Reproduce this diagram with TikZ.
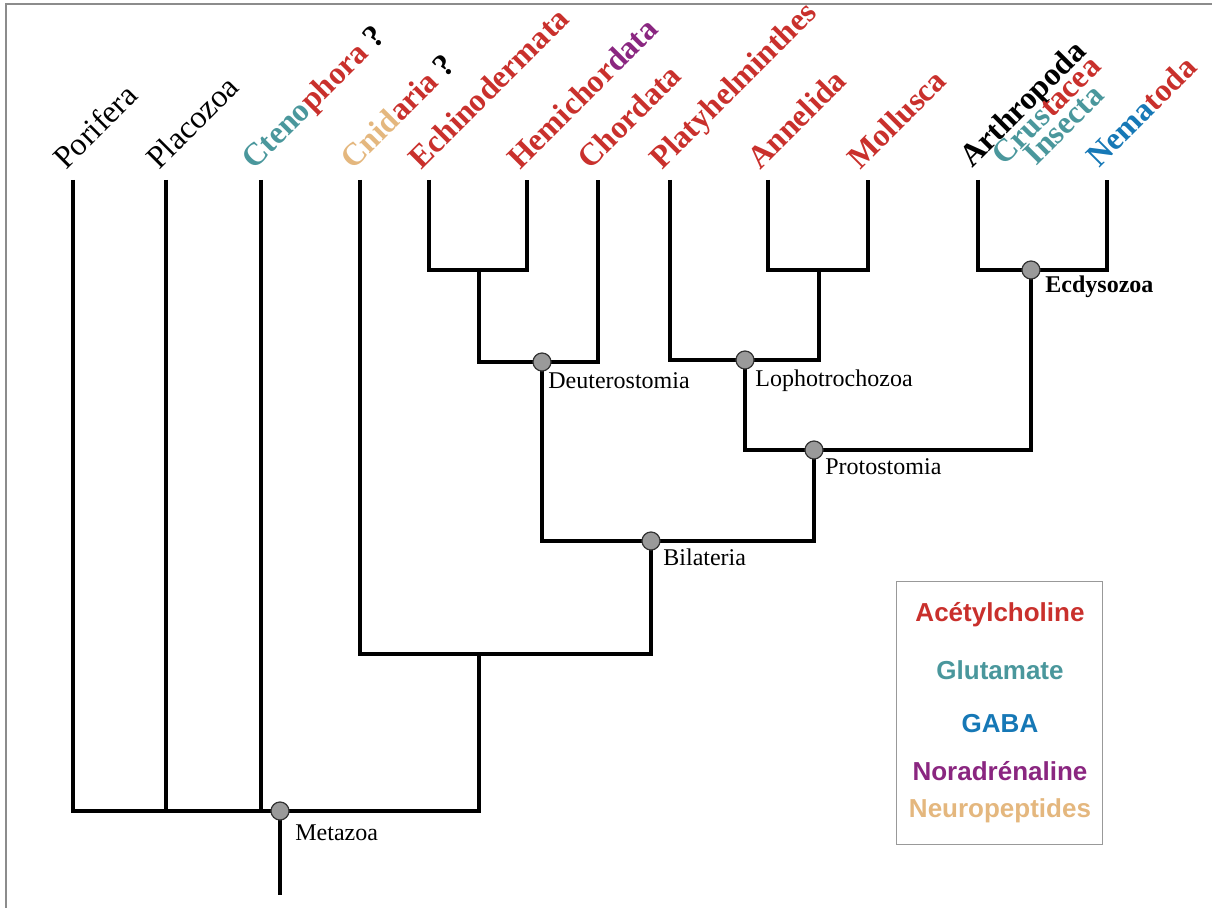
\documentclass[tikz,border=0pt]{standalone}
\usepackage{fontspec}
\setmainfont{Liberation Serif}
\newfontfamily\legendfont{Liberation Sans}
\usepackage{tikz}
\usetikzlibrary{calc}
\definecolor{acetyl}{HTML}{C9302C}
\definecolor{gluta}{HTML}{4A979C}
\definecolor{gaba}{HTML}{1678B6}
\definecolor{noradr}{HTML}{8A2680}
\definecolor{neuro}{HTML}{E4B77E}
\definecolor{dotgray}{HTML}{9A9A9A}

\tikzset{
	branch/.style={line width=2.2pt},
	taxon/.style={rotate=45, anchor=base west, inner sep=0pt, font=\fontsize{16}{18}\selectfont},
	taxonbf/.style={taxon, font=\fontsize{16}{18}\selectfont\bfseries},
	clade/.style={circle, fill=dotgray, draw=black!80, line width=0.6pt, minimum size=9pt, inner sep=0pt},
	cladelab/.style={anchor=base west, inner sep=0pt, font=\fontsize{12}{14}\selectfont},
	legendlab/.style={font=\legendfont\bfseries\fontsize{13}{15}\selectfont}
}

\begin{document}
\begin{tikzpicture}[x=0.5pt, y=-0.5pt]
			\useasboundingbox (0,0) rectangle (1212,908);
			% --- cadre ---
			\draw[gray!90, line width=0.7pt] (1212,4) -- (6,4) -- (6,908);

			% --- extrémités des branches ---
			\foreach \n/\x in {por/73, plac/166, cten/261, cnid/360, echi/429, hemi/527, chor/598,
					plat/670, anne/768, moll/868, arth/978, nema/1107}{
					\coordinate (\n) at (\x,180);
				}
			% --- noeuds internes ---
			\coordinate (eh)   at (479,270);
			\coordinate (deut) at (542,362);
			\coordinate (am)   at (819,270);
			\coordinate (loph) at (745,360);
			\coordinate (ecdy) at (1031,270);
			\coordinate (prot) at (814,450);
			\coordinate (bila) at (651,541);
			\coordinate (cb)   at (479,654);
			\coordinate (meta) at (280,811);
			\coordinate (root) at (280,895);

			% --- branches ---
			\draw[branch] (echi) |- (eh) -| (hemi);
			\draw[branch] (eh) |- (deut) -| (chor);
			\draw[branch] (anne) |- (am) -| (moll);
			\draw[branch] (plat) |- (loph) -| (am);
			\draw[branch] (arth) |- (ecdy) -| (nema);
			\draw[branch] (loph) |- (prot) -| (ecdy);
			\draw[branch] (deut) |- (bila) -| (prot);
			\draw[branch] (cnid) |- (cb) -| (bila);
			\draw[branch] (por) |- (meta) -| (cb);
			\draw[branch] (plac) -- (plac |- meta);
			\draw[branch] (cten) -- (cten |- meta);
			\draw[branch] (meta) -- (root);

			% --- points des clades ---
			\foreach \n in {deut, loph, ecdy, prot, bila, meta}{
					\node[clade] (\n-dot) at (\n) {};
				}
			\node[cladelab] (meta-lab) at (295,841) {Metazoa};
			\node[cladelab] (deut-lab) at (548,389) {Deuterostomia};
			\node[cladelab] (loph-lab) at (755,387) {Lophotrochozoa};
			\node[cladelab] (prot-lab) at (825,475) {Protostomia};
			\node[cladelab] (bila-lab) at (663,566) {Bilateria};
			\node[cladelab, font=\fontsize{12}{14}\selectfont\bfseries] (ecdy-lab) at (1045,293) {Ecdysozoa};

			% --- noms des taxons ---
			\node[taxon] (por-lab)  at (66,171)  {Porifera};
			\node[taxon] (plac-lab) at (159,171) {Placozoa};
			\node[taxonbf] (cten-lab) at (254,171) {\textcolor{gluta}{Cteno}\textcolor{acetyl}{phora} ?};
			\node[taxonbf] (cnid-lab) at (353,171) {\textcolor{neuro}{Cnid}\textcolor{acetyl}{aria} ?};
			\node[taxonbf] (echi-lab) at (421,171) {\textcolor{acetyl}{Echinodermata}};
			\node[taxonbf] (hemi-lab) at (520,171) {\textcolor{acetyl}{Hemichor}\textcolor{noradr}{data}};
			\node[taxonbf] (chor-lab) at (590,171) {\textcolor{acetyl}{Chordata}};
			\node[taxonbf] (plat-lab) at (662,171) {\textcolor{acetyl}{Platyhelminthes}};
			\node[taxonbf] (anne-lab) at (760,171) {\textcolor{acetyl}{Annelida}};
			\node[taxonbf] (moll-lab) at (860,171) {\textcolor{acetyl}{Mollusca}};
			\node[taxonbf] (arth-lab) at (972,169) {Arthropoda};
			\node[taxonbf] (crus-lab) at (1004,167) {\textcolor{gluta}{Crus}\textcolor{acetyl}{tacea}};
			\node[taxonbf] (inse-lab) at (1036,167) {\textcolor{gluta}{Insecta}};
			\node[taxonbf] (nema-lab) at (1099,169) {\textcolor{gaba}{Nema}\textcolor{acetyl}{toda}};

			% --- légende ---
			\draw[gray!80, line width=0.5pt] (896,582) rectangle (1102,845);
			\node[legendlab, text=acetyl] (leg-ach)  at (1000,615) {Acétylcholine};
			\node[legendlab, text=gluta]  (leg-glu)  at (1000,670) {Glutamate};
			\node[legendlab, text=gaba]   (leg-gaba) at (1000,724) {GABA};
			\node[legendlab, text=noradr] (leg-nor)  at (1000,771) {Noradrénaline};
			\node[legendlab, text=neuro]  (leg-neu)  at (1000,811) {Neuropeptides};
		\end{tikzpicture}
\end{document}
